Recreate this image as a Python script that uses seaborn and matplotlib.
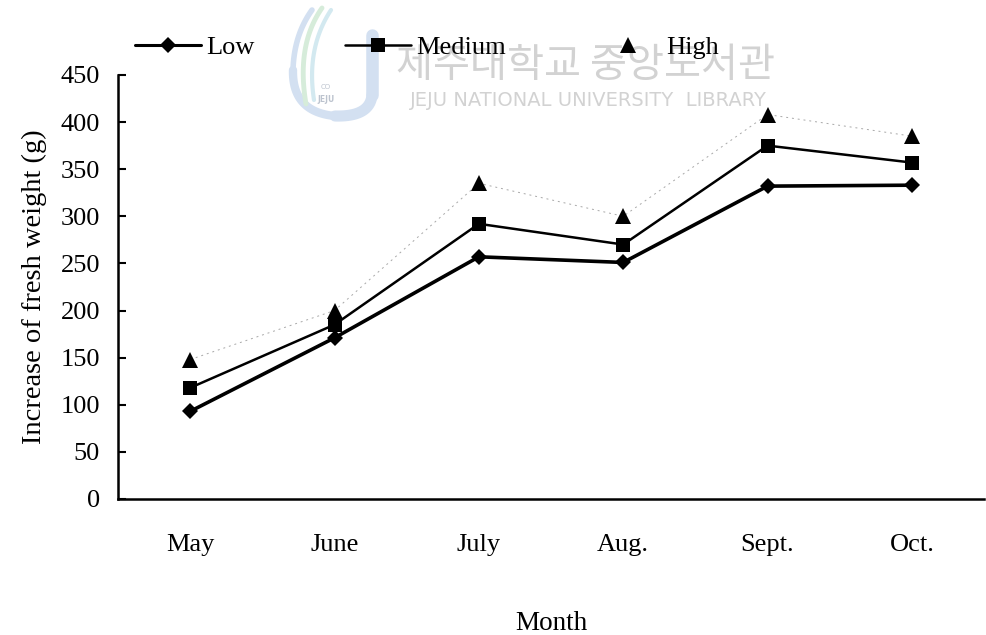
import numpy as np
import pandas as pd
import matplotlib
matplotlib.use("Agg")
import matplotlib.pyplot as plt
from matplotlib.lines import Line2D
import seaborn as sns

months = ["May", "June", "July", "Aug.", "Sept.", "Oct."]
low = [93, 171, 257, 251, 332, 333]
medium = [118, 185, 292, 270, 375, 357]
high = [148, 200, 335, 300, 408, 385]
y_ticks = [0, 50, 100, 150, 200, 250, 300, 350, 400, 450]

sns.set_theme(style="white")
plt.rcParams["font.family"] = ["Liberation Serif", "DejaVu Serif"]
plt.rcParams.update({
    "text.color": "black",
    "axes.labelcolor": "black",
    "xtick.color": "black",
    "ytick.color": "black",
})

pos = np.arange(len(months))
df = pd.DataFrame({
    "pos": np.tile(pos, 3),
    "value": low + medium + high,
    "series": ["Low"] * 6 + ["Medium"] * 6 + ["High"] * 6,
})

fig = plt.figure(figsize=(9.87, 6.35), dpi=100)
ax = fig.add_axes([0.1196, 0.2142, 0.8774, 0.6678])


def bezier(p0, p1, p2, n=40):
    t = np.linspace(0, 1, n)[:, None]
    p0, p1, p2 = map(np.asarray, (p0, p1, p2))
    pts = (1 - t) ** 2 * p0 + 2 * (1 - t) * t * p1 + t ** 2 * p2
    return pts[:, 0], pts[:, 1]


# library watermark, drawn behind the chart
wm = fig.add_axes([0, 0, 1, 1], zorder=-5)
wm.set_xlim(0, 987)
wm.set_ylim(635, 0)
wm.axis("off")
j_parts = [((372, 35), (372, 75), (372, 95), 9),
           ((372, 95), (370, 117), (335, 116), 8),
           ((335, 116), (292, 112), (293, 70), 6),
           ((293, 70), (294, 35), (312, 10), 4)]
for p0, p1, p2, lw in j_parts:
    xs, ys = bezier(p0, p1, p2)
    wm.plot(xs, ys, color="#d3e0f1", lw=lw, solid_capstyle="round")
for p, col, lw in [(((322, 8), (296, 45), (306, 104)), "#d6ecda", 3.5),
                   (((331, 10), (306, 48), (314, 100)), "#d3e9f0", 3.0)]:
    xs, ys = bezier(*p)
    wm.plot(xs, ys, color=col, lw=lw, solid_capstyle="round")
wm.text(326, 87, "CO", fontsize=5, color="#bcc3ce", ha="center", va="center",
        family="DejaVu Sans")
wm.text(326, 99, "JEJU", fontsize=5.5, color="#bcc3ce", ha="center",
        va="center", family="DejaVu Sans", weight="bold")
wm.text(585, 66, "제주대학교 중앙도서관", fontsize=29, color="#d2d2d2",
        ha="center", va="center", family=["Noto Sans CJK KR", "DejaVu Sans"])
wm.text(588, 101, "JEJU NATIONAL UNIVERSITY  LIBRARY", fontsize=14,
        color="#d2d2d2", ha="center", va="center", family="DejaVu Sans")

styles = {
    "Low": dict(marker="D", markersize=8, linewidth=2.6, color="black"),
    "Medium": dict(marker="s", markersize=10.5, linewidth=1.8, color="black"),
    "High": dict(marker="^", markersize=12, linewidth=0.7, color="#a8a8a8",
                 linestyle=(0, (2, 4))),
}
for name in ["High", "Medium", "Low"]:
    st = dict(styles[name])
    sub = df[df["series"] == name]
    ls = st.pop("linestyle", "-")
    sns.lineplot(data=sub, x="pos", y="value", ax=ax, linestyle=ls,
                 markeredgewidth=0, markerfacecolor="black", **st)

ax.set_xlim(-0.5, 5.5)
ax.set_ylim(0, 450)
ax.set_yticks(y_ticks)
ax.set_yticklabels([str(v) for v in y_ticks], fontsize=19)
ax.set_xticks(np.arange(0.5, 5.0, 1.0))
ax.set_xticklabels([])
ax.set_xticks(pos, minor=True)
ax.set_xticklabels(months, minor=True, fontsize=19)
ax.tick_params(axis="x", which="minor", length=0, pad=25)
ax.tick_params(axis="x", which="major", direction="in", length=7, width=1.5)
ax.tick_params(axis="y", direction="in", length=6, width=1.5, pad=13,
               left=True)
for s in ["top", "right"]:
    ax.spines[s].set_visible(False)
for s in ["left", "bottom"]:
    ax.spines[s].set_color("black")
    ax.spines[s].set_linewidth(1.8)
ax.set_xlabel("Month", fontsize=19.5, labelpad=40)
ax.set_ylabel("Increase of fresh weight (g)", fontsize=20.5, labelpad=10)
ax.patch.set_alpha(0)

handles = [
    Line2D([], [], color="black", lw=2.2, marker="D", markersize=8,
           markeredgewidth=0),
    Line2D([], [], color="black", lw=1.8, marker="s", markersize=10.5,
           markeredgewidth=0),
    Line2D([], [], color="black", lw=0, marker="^", markersize=12,
           markeredgewidth=0),
]
fig.legend(handles, ["Low", "Medium", "High"], loc="center left",
           bbox_to_anchor=(0.113, 0.925), ncol=3, frameon=False, fontsize=19,
           handlelength=2.5, handletextpad=0.2, columnspacing=3.4)

fig.savefig("out.png", dpi=100)
